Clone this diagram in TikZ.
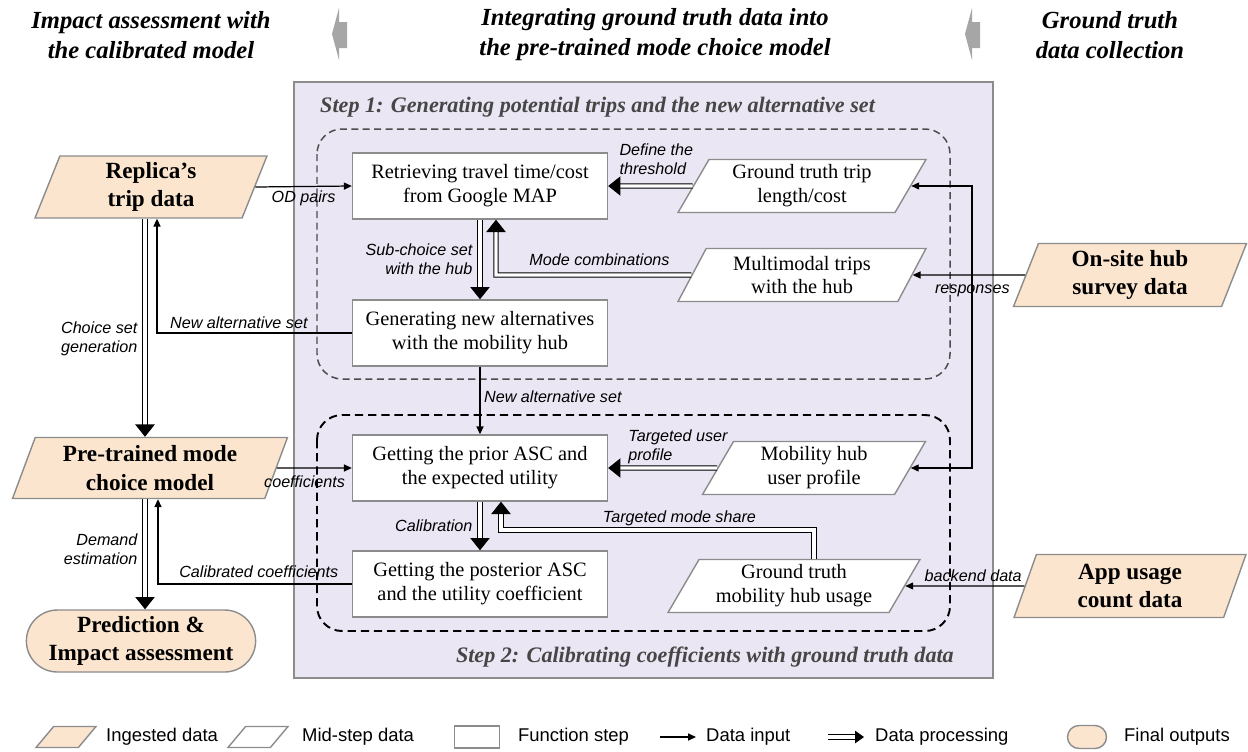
\documentclass[tikz,border=0pt]{standalone}
\usepackage{fontspec}
\setmainfont{Liberation Serif}
\setsansfont{Liberation Sans}
\usetikzlibrary{arrows.meta, shapes.geometric, shapes.misc}

\definecolor{peach}{RGB}{251,229,206}
\definecolor{panelfill}{RGB}{234,230,243}
\definecolor{edgegray}{RGB}{140,140,140}
\definecolor{steptext}{RGB}{70,70,70}
\definecolor{arrowgray}{RGB}{166,166,166}

\newcommand\fnBox{\fontsize{11.6}{13.6}\selectfont}
\newcommand\fnKey{\bfseries\fontsize{13.2}{16.4}\selectfont}
\newcommand\fnLbl{\sffamily\itshape\fontsize{9.2}{10.8}\selectfont}
\newcommand\fnHead{\bfseries\itshape\fontsize{14}{17}\selectfont}
\newcommand\fnStep{\bfseries\itshape\fontsize{12.6}{15}\selectfont}
\newcommand\fnLeg{\sffamily\fontsize{10.5}{12}\selectfont}

\begin{document}
\begin{tikzpicture}[x=0.02cm, y=-0.02cm]
\tikzstyle{func} = [shape=rectangle, draw=edgegray, fill=white, line width=0.8pt, minimum width=5.1cm, minimum height=1.32cm, align=center, font=\fnBox];
\tikzstyle{ingest} = [shape=trapezium, trapezium left angle=65, trapezium right angle=115, trapezium stretches body, draw=edgegray, fill=peach, line width=0.8pt, inner sep=1pt, align=center, font=\fnKey];
\tikzstyle{midstep} = [shape=trapezium, trapezium left angle=56, trapezium right angle=124, trapezium stretches body, draw=edgegray, fill=white, line width=0.8pt, inner sep=1pt, minimum height=1.06cm, align=center, font=\fnBox];
\tikzstyle{final} = [shape=rounded rectangle, draw=edgegray, fill=peach, line width=0.8pt, minimum width=4.82cm, minimum height=1.24cm, align=center, font=\fnKey];
\tikzstyle{head} = [align=center, font=\fnHead];
\tikzstyle{steptitle} = [text=steptext, font=\fnStep];
\tikzstyle{lbl} = [font=\fnLbl, inner sep=2pt];
\tikzstyle{legtext} = [anchor=west, font=\fnLeg];
\tikzstyle{dinput} = [line width=0.7pt, -{Triangle[length=4.5pt, width=4pt]}];
\tikzstyle{dproc} = [double, double distance=1.8pt, line width=0.6pt, -{Triangle[length=7pt, width=11pt]}];

\useasboundingbox (0,0) rectangle (1248,751);

% column titles
\node[head] (HeadImpact) at (151,35) {Impact assessment with\\the calibrated model};
\node[head] (HeadIntegrate) at (655,35) {Integrating ground truth data into\\the pre-trained mode choice model};
\node[head] (HeadCollect) at (1110,35) {Ground truth\\data collection};
\fill[arrowgray] (332,34) -- (339,8) -- (339,22) -- (347,22) -- (347,48) -- (339,48) -- (339,60) -- cycle;
\fill[arrowgray] (965,34) -- (972,8) -- (972,22) -- (980,22) -- (980,48) -- (972,48) -- (972,60) -- cycle;

% middle panel with the two steps
\draw[draw=edgegray, fill=panelfill, line width=0.8pt] (294,82) rectangle (993,678);
\draw[draw=black!70, line width=0.85pt, rounded corners=0.5cm, dash pattern=on 4pt off 2.5pt] (317,129) rectangle (950,379);
\draw[line width=1.1pt, rounded corners=0.5cm, dash pattern=on 4.7pt off 2.8pt] (317,415) rectangle (950,631);
\node[steptitle, anchor=west] (StepOne) at (314,107) {Step 1: Generating potential trips and the new alternative set};
\node[steptitle, anchor=east] (StepTwo) at (960,657) {Step 2: Calibrating coefficients with ground truth data};

% ingested data and outputs
\node[ingest, minimum width=4.64cm, minimum height=1.24cm] (Replica) at (151,187) {Replica's\\trip data};
\node[ingest, minimum width=5.5cm, minimum height=1.22cm] (Pretrained) at (150,468) {Pre-trained mode\\choice model};
\node[final] (Prediction) at (141,641) {Prediction \&\\Impact assessment};
\node[ingest, minimum width=4.66cm, minimum height=1.26cm] (OnSite) at (1130,275) {On-site hub\\survey data};
\node[ingest, minimum width=4.64cm, minimum height=1.26cm] (AppUsage) at (1130,586) {App usage\\count data};

% function steps
\node[func] (Retrieve) at (480,186) {Retrieving travel time/cost\\from Google MAP};
\node[func] (GenAlt) at (480,333) {Generating new alternatives\\with the mobility hub};
\node[func] (Prior) at (480,468) {Getting the prior ASC and\\the expected utility};
\node[func] (Posterior) at (480,584) {Getting the posterior ASC\\and the utility coefficient};

% mid-step data
\node[midstep, minimum width=4.96cm] (TripCost) at (802,186) {Ground truth trip\\length/cost};
\node[midstep, minimum width=4.96cm] (Multimodal) at (802,275) {Multimodal trips\\with the hub};
\node[midstep, minimum width=4.46cm] (HubProfile) at (814,468) {Mobility hub\\user profile};
\node[midstep, minimum width=5.04cm] (HubUsage) at (794,586) {Ground truth\\mobility hub usage};

\coordinate (ChoiceTop) at ([xshift=-0.12cm]Replica.south);
\coordinate (DemandTop) at ([xshift=-0.1cm]Pretrained.south);
\coordinate (AltBend) at (157,333);
\coordinate (CalBend) at (158,584);
\coordinate (ModeBend) at (496,275);
\coordinate (ShareUp) at (814,530);
\coordinate (ShareIn) at (501,530);
\coordinate (RespJoin) at (972,275);

\draw[dinput] (Replica.east) -- node[lbl, below]{OD pairs} (Retrieve.west);
\draw[dinput] (GenAlt.west) -- node[lbl, above, pos=0.58]{New alternative set} (AltBend) -- (AltBend |- Replica.south);
\draw[dproc] (ChoiceTop) -- node[lbl, left, align=right, pos=0.55, xshift=-2pt]{Choice set\\generation} (ChoiceTop |- Pretrained.north);
\draw[dproc] (Retrieve.south) -- node[lbl, left, align=right, xshift=-2pt]{Sub-choice set\\with the hub} (GenAlt.north);
\draw[dproc] (Multimodal.west) -- node[lbl, above, pos=0.47, yshift=3pt]{Mode combinations} (ModeBend) -- (ModeBend |- Retrieve.south);
\draw[dproc] (TripCost.west) -- node[lbl, above, align=left, pos=0.43, yshift=4pt]{Define the\\threshold} (Retrieve.east);
\draw[dinput] (OnSite.west) -- node[lbl, below, pos=0.47, yshift=-3pt]{responses} (Multimodal.east);
\draw[dinput] (RespJoin) |- (TripCost.east);
\draw[dinput] (RespJoin) |- (HubProfile.east);
\draw[dinput] (GenAlt.south) -- node[lbl, right, pos=0.44]{New alternative set} (Prior.north);
\draw[dinput] (Pretrained.east) -- node[lbl, below, pos=0.37, yshift=-2pt]{coefficients} (Prior.west);
\draw[dproc] (HubProfile.west) -- node[lbl, above, align=left, pos=0.36]{Targeted user\\profile} (Prior.east);
\draw[dproc] (Prior.south) -- node[lbl, left, xshift=-2pt]{Calibration} (Posterior.north);
\draw[dproc] (HubUsage.north -| ShareUp) -- (ShareUp) -- node[lbl, above, pos=0.43]{Targeted mode share} (ShareIn) -- (ShareIn |- Prior.south);
\draw[dinput] (Posterior.west) -- node[lbl, above, pos=0.48, yshift=1pt]{Calibrated coefficients} (CalBend) -- (CalBend |- Pretrained.south);
\draw[dproc] (DemandTop) -- node[lbl, left, align=right, pos=0.45, xshift=-2pt]{Demand\\estimation} (DemandTop |- Prediction.north);
\draw[dinput] (AppUsage.west) -- node[lbl, above, pos=0.43]{backend data} (HubUsage.east);

% legend
\node[ingest, inner sep=0pt, trapezium left angle=50, trapezium right angle=130, minimum width=1.2cm] (LegIngest) at (66,737) {\rule{0pt}{0.42cm}};
\node[legtext] (LegIngestTxt) at (100,737) {Ingested data};
\node[midstep, inner sep=0pt, minimum height=0.42cm, trapezium left angle=50, trapezium right angle=130, minimum width=1.2cm] (LegMid) at (258,737) {\rule{0pt}{0.42cm}};
\node[legtext] (LegMidTxt) at (296,737) {Mid-step data};
\node[func, minimum width=0.9cm, minimum height=0.44cm] (LegFunc) at (477,737) {};
\node[legtext] (LegFuncTxt) at (512,737) {Function step};
\coordinate (LegInA) at (660,737);
\coordinate (LegInB) at (696,737);
\draw[dinput] (LegInA) -- (LegInB);
\node[legtext] (LegInTxt) at (700,737) {Data input};
\coordinate (LegProcA) at (828,737);
\coordinate (LegProcB) at (864,737);
\draw[dproc, -{Triangle[length=5pt, width=7pt]}] (LegProcA) -- (LegProcB);
\node[legtext] (LegProcTxt) at (869,737) {Data processing};
\node[final, inner sep=0pt, minimum width=0.78cm, minimum height=0.46cm] (LegFinal) at (1087,737) {\rule{0.3cm}{0pt}};
\node[legtext] (LegFinalTxt) at (1118,737) {Final outputs};
\end{tikzpicture}
\end{document}
